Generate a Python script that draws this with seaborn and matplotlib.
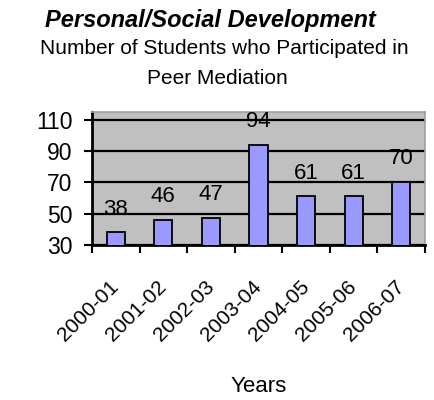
import matplotlib
matplotlib.use('Agg')
import matplotlib.pyplot as plt
import seaborn as sns
import numpy as np

# Data
years = ['2000-01', '2001-02', '2002-03', '2003-04', '2004-05', '2005-06', '2006-07']
students = [38, 46, 47, 94, 61, 61, 70]

sns.set_style('white')
plt.rcParams['font.family'] = ['Liberation Sans', 'DejaVu Sans']
plt.rcParams['text.color'] = 'black'
plt.rcParams['axes.labelcolor'] = 'black'
plt.rcParams['xtick.color'] = 'black'
plt.rcParams['ytick.color'] = 'black'

fig = plt.figure(figsize=(4.35, 4.0), dpi=100)
ax = fig.add_axes([92/435, 1 - 245/400, (425 - 92)/435, (245 - 112)/400])
ax.set_facecolor('#C0C0C0')

sns.barplot(x=years, y=students, color='#9999FF', edgecolor='black',
            linewidth=1.3, width=0.38, saturation=1, ax=ax, zorder=3)

ax.set_ylim(30, 115)
ax.set_yticks([30, 50, 70, 90, 110])
ax.yaxis.grid(True, color='black', linewidth=1.6, zorder=1)
ax.set_axisbelow(True)
ax.set_xlim(-0.5, len(years) - 0.5)

# bar value labels
for i, v in enumerate(students):
    ax.text(i, v + 15, str(v), ha='center', va='center', fontsize=16, zorder=4)

# ticks at category boundaries
ax.set_xticks(np.arange(len(years)))
ax.set_xticklabels(years, rotation=45, ha='right', va='center', rotation_mode='anchor', fontsize=15)
ax.tick_params(axis='x', which='major', length=0, pad=28)
ax.set_xticks(np.arange(len(years) + 1) - 0.5, minor=True)
ax.tick_params(axis='x', which='minor', length=6, width=1.5, color='black', direction='out')
ax.tick_params(axis='y', length=6, width=1.5, color='black', direction='out', labelsize=16.5, pad=8)
ax.xaxis.set_ticks_position('bottom')
ax.yaxis.set_ticks_position('left')

for side in ['left', 'bottom']:
    ax.spines[side].set_color('black')
    ax.spines[side].set_linewidth(2)
for side in ['top', 'right']:
    ax.spines[side].set_color('#A0A0A0')
    ax.spines[side].set_linewidth(1.2)

ax.set_xlabel('Years', fontsize=16, labelpad=22)
ax.set_ylabel('')

fig.text(210/435, 1 - 21/400, 'Personal/Social Development', ha='center', va='center',
         fontsize=17, fontweight='bold', fontstyle='italic')
fig.text(224/435, 1 - 48/400, 'Number of Students who Participated in',
         ha='center', va='center', fontsize=15)
fig.text(217/435, 1 - 78/400, 'Peer Mediation',
         ha='center', va='center', fontsize=15)

fig.savefig('out.png', dpi=100)
